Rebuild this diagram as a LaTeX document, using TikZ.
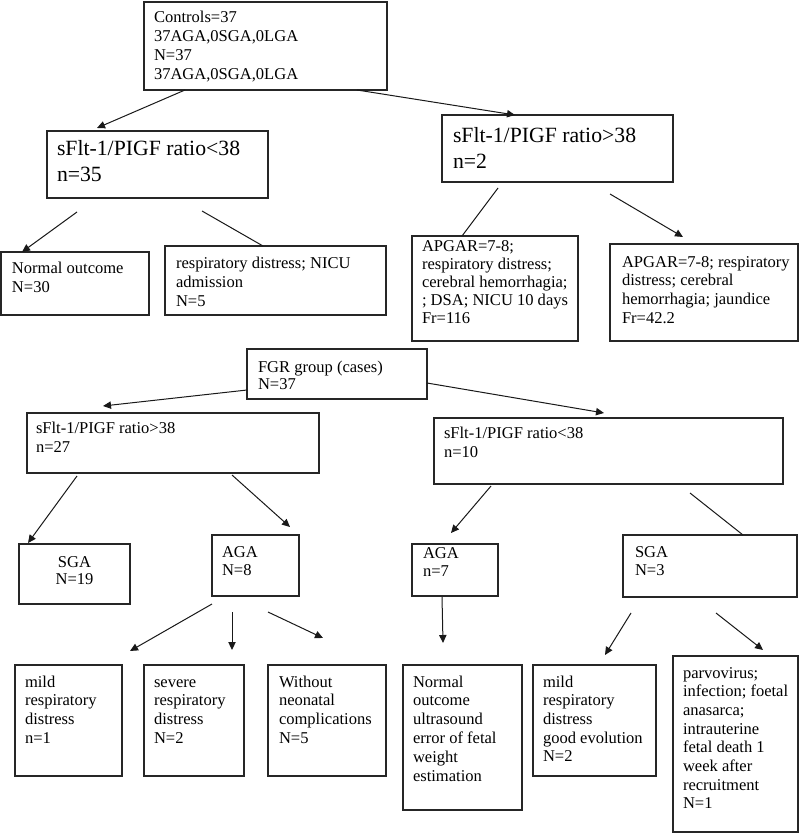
\documentclass[tikz,border=0pt]{standalone}
\usepackage{fontspec}
\setmainfont{Liberation Serif}
\usetikzlibrary{arrows.meta,calc}
\newcommand\pxu{0.75pt}
\newcommand\fl{\rule{0pt}{10pt}}
\newcommand\flb{\rule{0pt}{14pt}}
\begin{document}
\begin{tikzpicture}[x=0.75pt,y=-0.75pt,
  box/.style={draw=black!85, line width=0.9pt, inner sep=0pt, outer sep=0pt, anchor=north west},
  txt/.style={inner sep=0pt, outer sep=0pt, anchor=north west, align=left, text=black,
              font=\fontsize{12.4}{#1}\selectfont},
  bigtxt/.style={inner sep=0pt, outer sep=0pt, anchor=north west, align=left, text=black,
              font=\fontsize{16.3}{19.5}\selectfont},
  arr/.style={line width=0.75pt, black!90, -{Triangle[length=6pt,width=5.5pt]}},
  ln/.style={line width=0.75pt, black!90}]
\useasboundingbox[fill=white] (0,0) rectangle (800,834);

% ---------- boxes ----------
\node[box, minimum width=243*\pxu, minimum height=88*\pxu] (ctrl) at (144,2) {};
\node[box, minimum width=221*\pxu, minimum height=67*\pxu] (r1) at (47,131) {};
\node[box, minimum width=231*\pxu, minimum height=67*\pxu] (r2) at (442,115) {};
\node[box, minimum width=148*\pxu, minimum height=63*\pxu] (o1) at (1,252) {};
\node[box, minimum width=221*\pxu, minimum height=69*\pxu] (o2) at (165,246) {};
\node[box, minimum width=166*\pxu, minimum height=105*\pxu] (o3) at (412,236) {};
\node[box, minimum width=188*\pxu, minimum height=97*\pxu] (o4) at (610,244) {};
\node[box, minimum width=180*\pxu, minimum height=50*\pxu] (fgr) at (247,349) {};
\node[box, minimum width=292*\pxu, minimum height=60*\pxu] (g1) at (27,413) {};
\node[box, minimum width=349*\pxu, minimum height=66*\pxu] (g2) at (434,418) {};
\node[box, minimum width=111*\pxu, minimum height=60*\pxu] (s1) at (19,544) {};
\node[box, minimum width=87*\pxu, minimum height=61*\pxu] (a1) at (212,535) {};
\node[box, minimum width=86*\pxu, minimum height=52*\pxu] (a2) at (412,544) {};
\node[box, minimum width=174*\pxu, minimum height=62*\pxu] (s2) at (623,535) {};
\node[box, minimum width=107*\pxu, minimum height=111*\pxu] (m1) at (15,665) {};
\node[box, minimum width=100*\pxu, minimum height=111*\pxu] (m2) at (144,665) {};
\node[box, minimum width=118*\pxu, minimum height=111*\pxu] (m3) at (268,665) {};
\node[box, minimum width=119*\pxu, minimum height=145*\pxu] (m4) at (403,665) {};
\node[box, minimum width=123*\pxu, minimum height=111*\pxu] (m5) at (533,665) {};
\node[box, minimum width=125*\pxu, minimum height=176*\pxu] (m6) at (673,656) {};

% ---------- texts ----------
\node[txt=14.25] (tctrl) at (154,8.67) {\fl Controls=37\\37AGA,0SGA,0LGA\\N=37\\37AGA,0SGA,0LGA};
\node[bigtxt] (tr1) at (57,137.33) {\flb sFlt-1/PIGF ratio<38\\n=35};
\node[bigtxt] (tr2) at (453,124.33) {\flb sFlt-1/PIGF ratio>38\\n=2};
\node[txt=14.25] (to1) at (12,259.67) {\fl Normal outcome\\N=30};
\node[txt=14.25] (to2) at (176,254.67) {\fl respiratory distress; NICU\\admission\\N=5};
\node[txt=13.65] (to3) at (422,237.67) {\fl APGAR=7-8;\\respiratory distress;\\cerebral hemorrhagia;\\; DSA; NICU 10 days\\Fr=116};
\node[txt=14] (to4) at (622,253.67) {\fl APGAR=7-8; respiratory\\distress; cerebral\\hemorrhagia; jaundice\\Fr=42.2};
\node[txt=12.75] (tfgr) at (258,358.67) {\fl FGR group (cases)\\N=37};
\node[txt=14.6] (tg1) at (36,419.67) {\fl sFlt-1/PIGF ratio>38\\n=27};
\node[txt=14.6] (tg2) at (444,424.67) {\fl sFlt-1/PIGF ratio<38\\n=10};
\node[txt=13.1, anchor=north, align=center] (ts1) at (74.5,553.67) {\fl SGA\\N=19};
\node[txt=13.5] (ta1) at (222,543.67) {\fl AGA\\N=8};
\node[txt=13.5] (ta2) at (423,544.67) {\fl AGA\\n=7};
\node[txt=13.5] (ts2) at (635,543.67) {\fl SGA\\N=3};
\node[txt=14] (tm1) at (25,673.67) {\fl mild\\respiratory\\distress\\n=1};
\node[txt=14] (tm2) at (154,673.67) {\fl severe\\respiratory\\distress\\N=2};
\node[txt=14] (tm3) at (279,673.67) {\fl Without\\neonatal\\complications\\N=5};
\node[txt=14.15] (tm4) at (413,673.67) {\fl Normal\\outcome\\ultrasound\\error of fetal\\weight\\estimation};
\node[txt=14] (tm5) at (543,673.67) {\fl mild\\respiratory\\distress\\good evolution\\N=2};
\node[txt=14] (tm6) at (683,664.67) {\fl parvovirus;\\infection; foetal\\anasarca;\\intrauterine\\fetal death 1\\week after\\recruitment\\N=1};

% ---------- connectors ----------
\draw[arr] ($(ctrl.south west)+(41,0)$) -- ($(r1.north west)+(50,-3)$);
\draw[arr] ($(ctrl.south west)+(213,0)$) -- ($(r2.north west)+(73,0)$);
\draw[arr] ($(r1.south west)+(30,14)$) -- ($(o1.north west)+(21,0)$);
\draw[ln]  ($(r1.south west)+(155,13)$) -- ($(o2.north west)+(98,0)$);
\draw[ln]  ($(r2.south west)+(56,6)$) -- ($(o3.north west)+(50,0)$);
\draw[arr] ($(r2.south west)+(168,12)$) -- ($(o4.north west)+(73,-7)$);
\draw[arr] ($(fgr.south west)+(0,-9)$) -- ($(g1.north west)+(76,-7)$);
\draw[arr] ($(fgr.south east)+(0,-16)$) -- ($(g2.north west)+(170,-5)$);
\draw[arr] ($(g1.south west)+(50,3)$) -- ($(s1.north west)+(9,-1)$);
\draw[arr] ($(g1.south west)+(205,2)$) -- ($(a1.north west)+(78,-8)$);
\draw[arr] ($(g2.south west)+(57,2)$) -- ($(a2.north west)+(39,-11)$);
\draw[ln]  ($(g2.south west)+(256,9)$) -- ($(s2.north west)+(120,0)$);
\draw[arr] ($(a1.south west)+(0,8)$) -- ($(m1.north east)+(8,-14)$);
\draw[arr] ($(a1.south west)+(20,16)$) -- ($(m2.north west)+(88,-15)$);
\draw[arr] ($(a1.south west)+(56,16)$) -- ($(m3.north west)+(55,-27)$);
\draw[arr] ($(a2.south west)+(30,1)$) -- ($(m4.north west)+(40,-22)$);
\draw[arr] ($(s2.south west)+(8,16)$) -- ($(m5.north west)+(72,-10)$);
\draw[arr] ($(s2.south west)+(93,16)$) -- ($(m6.north west)+(90,-6)$);
\end{tikzpicture}
\end{document}
